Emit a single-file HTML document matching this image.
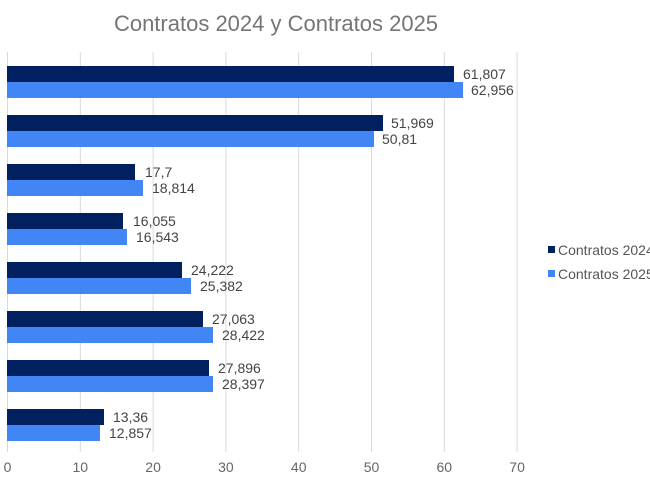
<!DOCTYPE html>
<html><head><meta charset="utf-8"><style>
body{margin:0;background:#fff;}
svg{display:block;font-family:"Liberation Sans",Arial,sans-serif;}
</style></head><body>
<svg width="650" height="487" viewBox="0 0 650 487">
<rect width="650" height="487" fill="#fff"/>
<text x="276" y="31" text-anchor="middle" font-size="22" fill="#757575">Contratos 2024 y Contratos 2025</text>
<g stroke="#d9d9d9" stroke-width="1">
<line x1="7.5" y1="52" x2="7.5" y2="452"/>
<line x1="80.3" y1="52" x2="80.3" y2="452"/>
<line x1="153.1" y1="52" x2="153.1" y2="452"/>
<line x1="225.9" y1="52" x2="225.9" y2="452"/>
<line x1="298.7" y1="52" x2="298.7" y2="452"/>
<line x1="371.5" y1="52" x2="371.5" y2="452"/>
<line x1="444.3" y1="52" x2="444.3" y2="452"/>
<line x1="517.1" y1="52" x2="517.1" y2="452"/>
</g>
<g font-size="14" fill="#666" text-anchor="middle">
<text x="7.5" y="472">0</text><text x="80.3" y="472">10</text><text x="153.1" y="472">20</text><text x="225.9" y="472">30</text><text x="298.7" y="472">40</text><text x="371.5" y="472">50</text><text x="444.3" y="472">60</text><text x="517.1" y="472">70</text>
</g>
<g font-size="14" fill="#444">
<rect x="7" y="66" width="447" height="16" fill="#002060"/><rect x="7" y="82" width="456" height="16" fill="#4285f4"/>
<text x="463" y="79">61,807</text><text x="471" y="95">62,956</text>
<rect x="7" y="115" width="376" height="16" fill="#002060"/><rect x="7" y="131" width="367" height="16" fill="#4285f4"/>
<text x="391" y="128">51,969</text><text x="382" y="144">50,81</text>
<rect x="7" y="164" width="128" height="16" fill="#002060"/><rect x="7" y="180" width="136" height="16" fill="#4285f4"/>
<text x="145" y="177">17,7</text><text x="152" y="193">18,814</text>
<rect x="7" y="213" width="116" height="16" fill="#002060"/><rect x="7" y="229" width="120" height="16" fill="#4285f4"/>
<text x="133" y="226">16,055</text><text x="136" y="242">16,543</text>
<rect x="7" y="262" width="175" height="16" fill="#002060"/><rect x="7" y="278" width="184" height="16" fill="#4285f4"/>
<text x="191" y="275">24,222</text><text x="200" y="291">25,382</text>
<rect x="7" y="311" width="196" height="16" fill="#002060"/><rect x="7" y="327" width="206" height="16" fill="#4285f4"/>
<text x="212" y="324">27,063</text><text x="222" y="340">28,422</text>
<rect x="7" y="360" width="202" height="16" fill="#002060"/><rect x="7" y="376" width="206" height="16" fill="#4285f4"/>
<text x="218" y="373">27,896</text><text x="222" y="389">28,397</text>
<rect x="7" y="409" width="97" height="16" fill="#002060"/><rect x="7" y="425" width="93" height="16" fill="#4285f4"/>
<text x="113" y="422">13,36</text><text x="109" y="438">12,857</text>
</g>
<rect x="548" y="246" width="7" height="7" fill="#002060"/>
<rect x="548" y="270" width="7" height="7" fill="#4285f4"/>
<g font-size="14" fill="#555">
<text x="558" y="255">Contratos 2024</text>
<text x="558" y="279">Contratos 2025</text>
</g>
</svg>
</body></html>
